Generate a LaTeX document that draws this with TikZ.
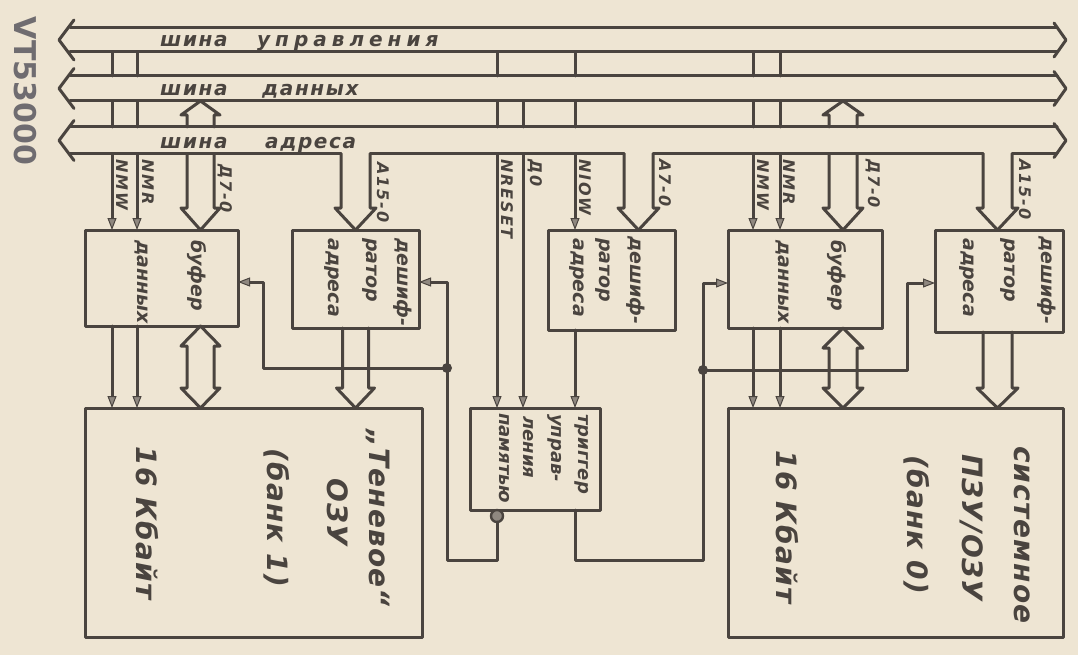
\documentclass[tikz,border=0pt]{standalone}
\usepackage{fontspec}
\newfontfamily\hand{DejaVu Sans}
\usetikzlibrary{arrows.meta,calc}
\definecolor{paper}{HTML}{EEE5D3}
\definecolor{inkc}{HTML}{4A443F}
\definecolor{tipc}{HTML}{8F8880}
\definecolor{vtc}{HTML}{6F6C70}
\tikzset{
 ink/.style={draw=inkc,line width=3pt,line cap=round,line join=round},
 sig/.style={ink,-{Triangle[length=12pt,width=9pt,line width=1pt,fill=tipc]}},
 blk/.style={ink,rectangle,inner sep=0pt,outer sep=0pt},
 busn/.style={rectangle,inner sep=0pt,outer sep=0pt,minimum width=987pt},
 buslab/.style={text=inkc,inner sep=0pt,anchor=base west,font={\hand\bfseries\itshape\fontsize{20pt}{20pt}\selectfont\addfontfeatures{LetterSpace=8}}},
 buslabw/.style={buslab,font={\hand\bfseries\itshape\fontsize{20pt}{20pt}\selectfont\addfontfeatures{LetterSpace=25}}},
 siglab/.style={text=inkc,inner sep=0pt,anchor=west,rotate=-90,font={\hand\bfseries\itshape\fontsize{16pt}{16pt}\selectfont\addfontfeatures{LetterSpace=12}}},
 btxt/.style={text=inkc,inner sep=0pt,anchor=west,rotate=-90,font={\hand\bfseries\itshape\fontsize{19pt}{19pt}\selectfont}},
 ttxt/.style={text=inkc,inner sep=0pt,anchor=west,rotate=-90,font={\hand\bfseries\itshape\fontsize{18pt}{18pt}\selectfont}},
 mtxt/.style={text=inkc,inner sep=0pt,anchor=center,rotate=-90,font={\hand\bfseries\itshape\fontsize{28pt}{28pt}\selectfont\addfontfeatures{LetterSpace=4}}},
}
\newcommand\harrow[4]{\draw[ink] let \p1=(#1),\p2=(#2),\n1={(\y2>\y1)?1:-1} in
 ({\x2-#3},\y1) -- ({\x2-#3},{\y2-(\n1)*#4}) -- ({\x2-#3-6pt},{\y2-(\n1)*#4}) -- (\x2,\y2) -- ({\x2+#3+6pt},{\y2-(\n1)*#4}) -- ({\x2+#3},{\y2-(\n1)*#4}) -- ({\x2+#3},\y1);}
\newcommand\hbiarrow[4]{\draw[ink] let \p1=(#1),\p2=(#2) in
 (\x1,\y1) -- ({\x1-#3-6pt},{\y1-#4}) -- ({\x1-#3},{\y1-#4}) -- ({\x1-#3},{\y2+#4}) -- ({\x1-#3-6pt},{\y2+#4}) -- (\x1,\y2) -- ({\x1+#3+6pt},{\y2+#4}) -- ({\x1+#3},{\y2+#4}) -- ({\x1+#3},{\y1-#4}) -- ({\x1+#3+6pt},{\y1-#4}) -- cycle;}
\newcommand\busends[1]{%
 \draw[ink] ([shift={(4,-20)}]#1.west) -- ([shift={(-11,0)}]#1.west) -- ([shift={(4,20)}]#1.west);
 \draw[ink] ([shift={(-3,-17)}]#1.east) -- ([shift={(9,0)}]#1.east) -- ([shift={(-3,17)}]#1.east);}
\newcommand\buscross[1]{\draw[ink] (#1|-cbus.south) -- (#1|-dbus.north); \draw[ink] (#1|-dbus.south) -- (#1|-abus.north);}
\begin{document}
\begin{tikzpicture}[x=1pt,y=-1pt]
\useasboundingbox (0,0) rectangle (1078,655);
\fill[paper] (0,0) rectangle (1078,655);

% buses
\node[busn,minimum height=24pt] (cbus) at (563.5,40) {};
\node[busn,minimum height=25pt] (dbus) at (563.5,88.5) {};
\node[busn,minimum height=27pt] (abus) at (563.5,140.5) {};

% blocks
\node[blk,minimum width=153pt,minimum height=96pt] (buf1) at (161.5,278) {};
\node[blk,minimum width=127pt,minimum height=98pt] (dec1) at (355.5,279) {};
\node[blk,minimum width=127pt,minimum height=100pt] (dec3) at (611.5,280) {};
\node[blk,minimum width=154pt,minimum height=98pt] (buf2) at (805,279) {};
\node[blk,minimum width=128pt,minimum height=102pt] (dec2) at (999,281) {};
\node[blk,minimum width=337pt,minimum height=229pt] (ram1) at (253.5,522.5) {};
\node[blk,minimum width=130pt,minimum height=102pt] (trig) at (535,459) {};
\node[blk,minimum width=335pt,minimum height=229pt] (ram2) at (895.5,522.5) {};

% signal x positions
\coordinate (xw1) at (112,0); \coordinate (xr1) at (137,0); \coordinate (xd1) at (200.5,0);
\coordinate (xa1) at (355.5,0); \coordinate (xa1l) at (341,0); \coordinate (xa1r) at (370,0);
\coordinate (xrst) at (497,0); \coordinate (xd0) at (523,0); \coordinate (xiow) at (575,0);
\coordinate (xa7) at (638.5,0); \coordinate (xa7l) at (624,0); \coordinate (xa7r) at (653,0);
\coordinate (xw2) at (753,0); \coordinate (xr2) at (780,0); \coordinate (xd2) at (843,0);
\coordinate (xa2) at (997.5,0); \coordinate (xa2l) at (983,0); \coordinate (xa2r) at (1012,0);
\coordinate (k1) at (263,0); \coordinate (k2) at (907,0);
\coordinate (j1) at (447,368); \coordinate (j2) at (703,370); \coordinate (bot) at (0,560);

% bus lines
\draw[ink] (cbus.north west) -- (cbus.north east);
\draw[ink] (cbus.south west) -- (cbus.south east);
\draw[ink] (dbus.north west) -- (dbus.north east);
\draw[ink] (dbus.south west) -- (dbus.south east);
\draw[ink] (abus.north west) -- (abus.north east);
\draw[ink] (abus.south west) -- (xa1l|-abus.south);
\draw[ink] (xa1r|-abus.south) -- (xa7l|-abus.south);
\draw[ink] (xa7r|-abus.south) -- (xa2l|-abus.south);
\draw[ink] (xa2r|-abus.south) -- (abus.south east);
\busends{cbus}\busends{dbus}\busends{abus}

% bus labels
\node[buslab] (lc1) at (160,46.5) {шина};
\node[buslabw] (lc2) at (257,46.5) {управления};
\node[buslab] (ld1) at (160,96) {шина};
\node[buslab] (ld2) at (262,96) {данных};
\node[buslab] (la1) at (160,149) {шина};
\node[buslab] (la2) at (265,149) {адреса};

\node[text=vtc,rotate=-90,inner sep=0pt,font={\hand\bfseries\fontsize{30pt}{30pt}\selectfont}] (vt) at (25,91) {VT53000};

% left buffer / decoder
\buscross{xw1}\buscross{xr1}
\draw[sig] (xw1|-abus.south) -- (xw1|-buf1.north);
\draw[sig] (xr1|-abus.south) -- (xr1|-buf1.north);
\harrow{xd1|-abus.north}{xd1|-dbus.south}{13.5pt}{14pt}
\harrow{xd1|-abus.south}{xd1|-buf1.north}{13.5pt}{22pt}
\harrow{xa1|-abus.south}{xa1|-dec1.north}{14.5pt}{22pt}
\draw[sig] (xw1|-buf1.south) -- (xw1|-ram1.north);
\draw[sig] (xr1|-buf1.south) -- (xr1|-ram1.north);
\hbiarrow{xd1|-buf1.south}{xd1|-ram1.north}{13.5pt}{20pt}
\harrow{xa1|-dec1.south}{xa1|-ram1.north}{13pt}{20pt}

% middle
\buscross{xrst}
\draw[ink] (xd0|-dbus.south) -- (xd0|-abus.north);
\buscross{xiow}
\draw[sig] (xrst|-abus.south) -- (xrst|-trig.north);
\draw[sig] (xd0|-abus.south) -- (xd0|-trig.north);
\draw[sig] (xiow|-abus.south) -- (xiow|-dec3.north);
\harrow{xa7|-abus.south}{xa7|-dec3.north}{14.5pt}{22pt}
\draw[sig] (xiow|-dec3.south) -- (xiow|-trig.north);

% right buffer / decoder
\buscross{xw2}\buscross{xr2}
\draw[sig] (xw2|-abus.south) -- (xw2|-buf2.north);
\draw[sig] (xr2|-abus.south) -- (xr2|-buf2.north);
\harrow{xd2|-abus.north}{xd2|-dbus.south}{14pt}{14pt}
\harrow{xd2|-abus.south}{xd2|-buf2.north}{14pt}{22pt}
\harrow{xa2|-abus.south}{xa2|-dec2.north}{14.5pt}{22pt}
\draw[sig] (xw2|-buf2.south) -- (xw2|-ram2.north);
\draw[sig] (xr2|-buf2.south) -- (xr2|-ram2.north);
\hbiarrow{xd2|-buf2.south}{xd2|-ram2.north}{14pt}{20pt}
\harrow{xa2|-dec2.south}{xa2|-ram2.north}{14.5pt}{20pt}

% enable wiring
\coordinate (e1) at ([shift={(0,4)}]buf1.east);
\coordinate (e2) at ([shift={(0,3)}]dec1.east);
\coordinate (e3) at ([shift={(0,4)}]buf2.west);
\coordinate (e4) at ([shift={(0,2)}]dec2.west);
\node[circle,draw=inkc,line width=2.4pt,fill=tipc,minimum size=12pt,inner sep=0pt,outer sep=0pt] (bub) at ($(xrst|-trig.south)+(0,6)$) {};
\draw[sig] (bub.south) |- (j1|-bot) -- (j1|-e2) -- (e2);
\draw[sig] (j1) -- (k1|-j1) -- (k1|-e1) -- (e1);
\draw[sig] (xiow|-trig.south) |- (j2|-bot) -- (j2|-e3) -- (e3);
\draw[sig] (j2) -- (k2|-j2) -- (k2|-e4) -- (e4);
\fill[inkc] (j1) circle[radius=5pt];
\fill[inkc] (j2) circle[radius=5pt];

% signal labels
\node[siglab] (lw1) at (122,159) {NMW};
\node[siglab] (lr1) at (148,159) {NMR};
\node[siglab] (ld71) at (225,164) {Д7-0};
\node[siglab] (la151) at (383,162) {A15-0};
\node[siglab] (lrst) at (507,159) {NRESET};
\node[siglab] (ld0) at (535,159) {Д0};
\node[siglab] (liow) at (585,159) {NIOW};
\node[siglab] (la7) at (665,159) {A7-0};
\node[siglab] (lw2) at (763,159) {NMW};
\node[siglab] (lr2) at (789,159) {NMR};
\node[siglab] (ld72) at (873,159) {Д7-0};
\node[siglab] (la152) at (1025,159) {A15-0};

% block texts
\node[btxt] (tb1a) at (197,240) {буфер};
\node[btxt] (tb1b) at (142,240) {данных};
\node[btxt] (td1a) at (403,238) {дешиф-};
\node[btxt] (td1b) at (370,238) {ратор};
\node[btxt] (td1c) at (332,238) {адреса};
\node[btxt] (td3a) at (636,236) {дешиф-};
\node[btxt] (td3b) at (603,238) {ратор};
\node[btxt] (td3c) at (577,238) {адреса};
\node[btxt] (tb2a) at (837,240) {буфер};
\node[btxt] (tb2b) at (782,240) {данных};
\node[btxt] (td2a) at (1047,236) {дешиф-};
\node[btxt] (td2b) at (1008,238) {ратор};
\node[btxt] (td2c) at (967,238) {адреса};
\node[ttxt] (tt1) at (582,414) {триггер};
\node[ttxt] (tt2) at (555,414) {управ-};
\node[ttxt] (tt3) at (528,416) {ления};
\node[ttxt] (tt4) at (504,413) {памятью};

% memory texts
\node[mtxt] (tm1a) at (378,518) {„Теневое“};
\node[mtxt] (tm1b) at (338,512) {ОЗУ};
\node[mtxt] (tm1c) at (277,518) {(банк 1)};
\node[mtxt] (tm1d) at (147,523) {16 Кбайт};
\node[mtxt] (tm2a) at (1022,535) {системное};
\node[mtxt] (tm2b) at (972,528) {ПЗУ/ОЗУ};
\node[mtxt] (tm2c) at (917,525) {(банк 0)};
\node[mtxt] (tm2d) at (787,527) {16 Кбайт};
\end{tikzpicture}
\end{document}
